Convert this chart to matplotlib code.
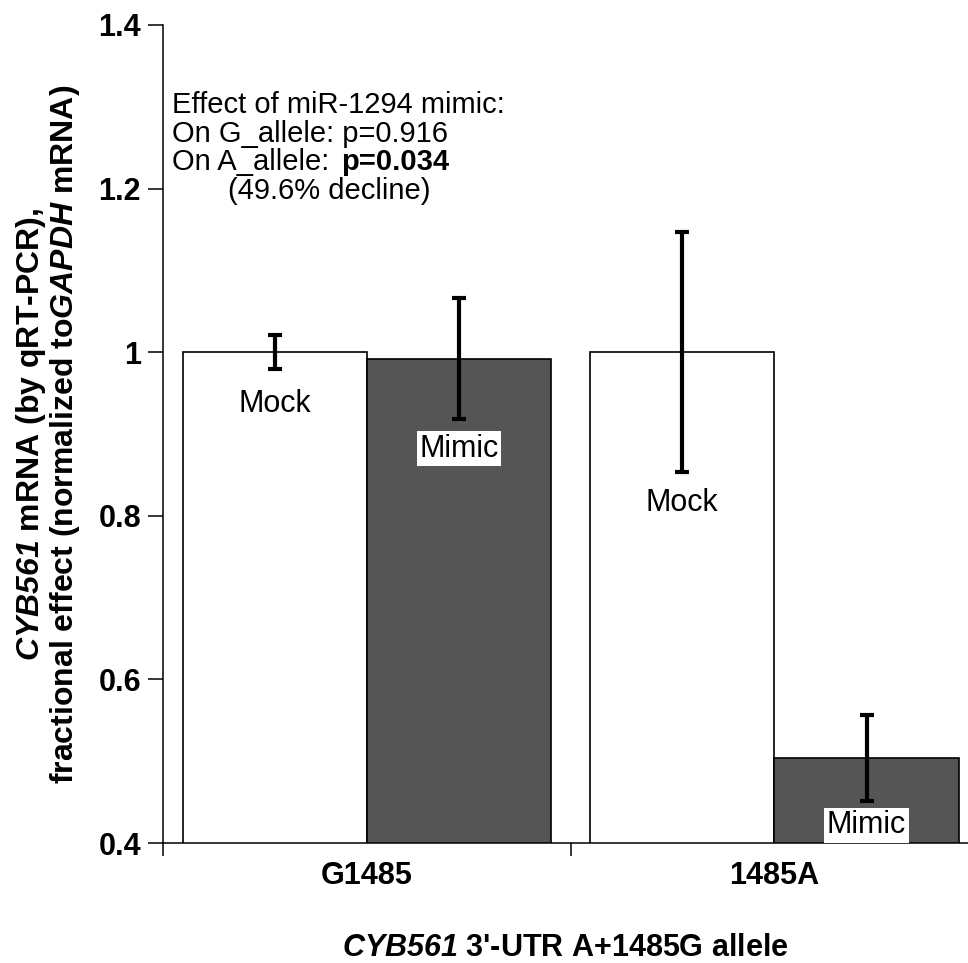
import numpy as np
import matplotlib.pyplot as plt

alleles = ['G1485', '1485A']
mock_vals = [1.0, 1.0]
mimic_vals = [0.992, 0.504]
mock_err = [0.021, 0.147]
mimic_err = [0.074, 0.053]
# baseline heights of the in-bar labels
mock_label_y = [0.927, 0.806]
mimic_label_y = [0.872, 0.412]
yticks = [0.4, 0.6, 0.8, 1.0, 1.2, 1.4]
ytick_labels = ['0.4', '0.6', '0.8', '1', '1.2', '1.4']

plt.rcParams['font.family'] = ['Liberation Sans', 'DejaVu Sans']
# gene names: bold italic through mathtext (digits included)
plt.rcParams['mathtext.fontset'] = 'custom'
plt.rcParams['mathtext.rm'] = 'Liberation Sans:italic:bold'
plt.rcParams['mathtext.it'] = 'Liberation Sans:italic:bold'
plt.rcParams['mathtext.bf'] = 'Liberation Sans:bold'

fig = plt.figure(figsize=(9.68, 9.63), dpi=100)
ax = fig.add_axes([163 / 968, 120 / 963, 805 / 968, 818 / 963])

x = np.arange(len(alleles))
w = 0.452
ax.bar(x - w / 2, mock_vals, w, color='white', edgecolor='black', linewidth=1.2, zorder=2)
ax.bar(x + w / 2, mimic_vals, w, color='#555555', edgecolor='black', linewidth=1.2, zorder=2)
ax.errorbar(x - w / 2, mock_vals, yerr=mock_err, fmt='none', ecolor='black',
            elinewidth=3, capsize=4.7, capthick=3, zorder=3)
ax.errorbar(x + w / 2, mimic_vals, yerr=mimic_err, fmt='none', ecolor='black',
            elinewidth=3, capsize=4.7, capthick=3, zorder=3)

for i in range(len(alleles)):
    ax.text(x[i] - w / 2, mock_label_y[i], 'Mock', ha='center', va='baseline', fontsize=22, zorder=4)
    ax.text(x[i] + w / 2, mimic_label_y[i], 'Mimic', ha='center', va='baseline', fontsize=22, zorder=4,
            bbox=dict(boxstyle='square,pad=0.08', facecolor='white', edgecolor='none'))

ax.set_xlim(-0.5, 1.475)
ax.set_ylim(0.4, 1.4)

ax.spines['top'].set_visible(False)
ax.spines['right'].set_visible(False)
ax.spines['left'].set_linewidth(1.1)
ax.spines['bottom'].set_linewidth(1.1)

ax.set_yticks(yticks, ytick_labels)
ax.tick_params(axis='y', direction='out', length=10.8, width=1.1, pad=5, labelsize=22)
for lbl in ax.get_yticklabels():
    lbl.set_fontweight('bold')

ax.set_xticks([-0.5, 0.5], ['', ''])
ax.tick_params(axis='x', which='major', direction='out', length=9, width=1.1)
ax.set_xticks(x, alleles, minor=True)
ax.tick_params(axis='x', which='minor', length=0, pad=13, labelsize=22)
for lbl in ax.get_xticklabels(minor=True):
    lbl.set_fontweight('bold')

ax.set_ylabel('$\\mathrm{CYB561}$ mRNA (by qRT-PCR),\n'
              'fractional effect (normalized to$\\mathrm{GAPDH}$ mRNA)',
              fontsize=23, fontweight='bold', linespacing=1.0, labelpad=12)
ax.set_xlabel('$\\mathrm{CYB561}$ 3\'-UTR A+1485G allele', fontsize=22, fontweight='bold', labelpad=30)

# annotation block
fs = 21
ax.text(0.011, 0.8924, 'Effect of miR-1294 mimic:', transform=ax.transAxes, fontsize=fs, va='baseline')
ax.text(0.011, 0.8570, 'On G_allele: p=0.916', transform=ax.transAxes, fontsize=fs, va='baseline')
t3 = ax.text(0.011, 0.8227, 'On A_allele:', transform=ax.transAxes, fontsize=fs, va='baseline')
ax.annotate('p=0.034', xy=(1, 0), xycoords=t3, xytext=(9, 0), textcoords='offset points',
            va='bottom', ha='left', fontsize=fs, fontweight='bold')
ax.text(0.0807, 0.7875, '(49.6% decline)', transform=ax.transAxes, fontsize=fs, va='baseline')

fig.savefig('out.png', dpi=100)
